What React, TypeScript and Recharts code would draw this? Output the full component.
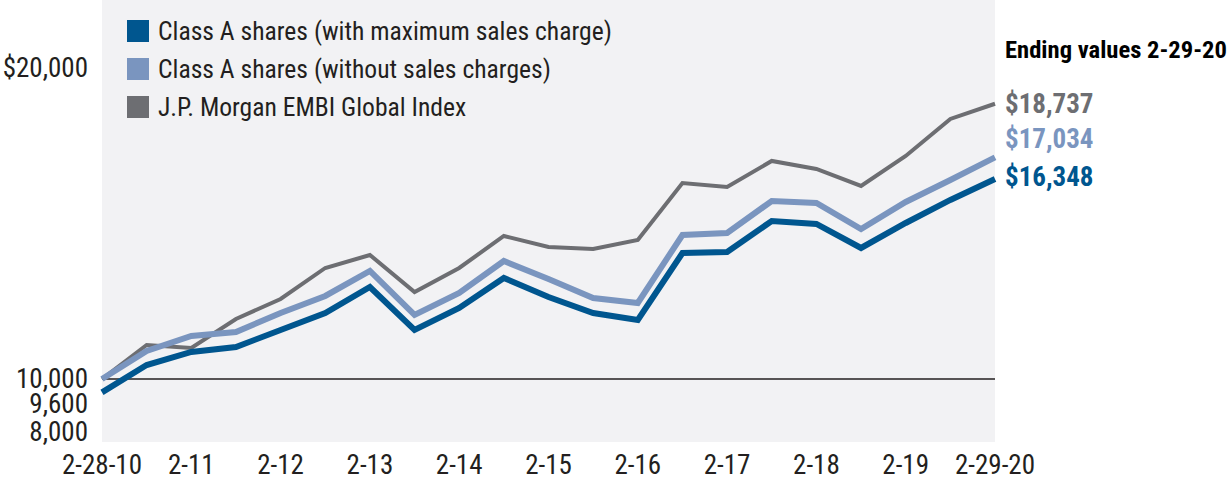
import React from 'react';
import {
  LineChart, Line, XAxis, YAxis, CartesianGrid, ReferenceLine, LabelList
} from 'recharts';

const dates = [
  '2-28-10', '8-10', '2-11', '8-11', '2-12', '8-12', '2-13', '8-13', '2-14', '8-14', '2-15',
  '8-15', '2-16', '8-16', '2-17', '8-17', '2-18', '8-18', '2-19', '8-19', '2-29-20'
];

const withMaxCharge = [
  9575, 10444, 10857, 11016, 11556, 12095, 12921, 11556, 12254, 13206, 12603,
  12095, 11873, 14000, 14032, 15016, 14921, 14159, 14952, 15683, 16348
];

const withoutCharge = [
  10000, 10889, 11365, 11492, 12095, 12635, 13429, 12032, 12730, 13746, 13175,
  12571, 12413, 14571, 14635, 15651, 15587, 14762, 15619, 16317, 17034
];

const embiIndex = [
  10000, 11079, 10984, 11905, 12540, 13524, 13937, 12762, 13524, 14540, 14190,
  14127, 14413, 16222, 16095, 16921, 16667, 16127, 17079, 18254, 18737
];

const xTicks = ['2-28-10', '2-11', '2-12', '2-13', '2-14', '2-15', '2-16', '2-17', '2-18', '2-19', '2-29-20'];
const yTicks = [8000, 9600, 10000, 20000];

const FONT = "'Liberation Sans Narrow', 'Roboto Condensed', 'DejaVu Sans Condensed', 'Open Sans', sans-serif";
const INK = '#231f20';

const series = [
  { key: 'maxCharge', name: 'Class A shares (with maximum sales charge)', color: '#00568f', width: 6, labelDy: -2 },
  { key: 'noCharge', name: 'Class A shares (without sales charges)', color: '#7a95bf', width: 6, labelDy: -18 },
  { key: 'embi', name: 'J.P. Morgan EMBI Global Index', color: '#6d6e72', width: 4, labelDy: 0 },
];

const data = dates.map((date, i) => ({
  date,
  maxCharge: withMaxCharge[i],
  noCharge: withoutCharge[i],
  embi: embiIndex[i],
}));

// the small labels near 10,000 are nudged apart like in the print version
const yNudge: Record<number, number> = { 20000: 4, 10000: 0, 9600: 12, 8000: -10 };

const YTick = (props: any) => {
  const { x, y, payload } = props;
  const label = payload.value === 20000 ? '$20,000' : payload.value.toLocaleString('en-US');
  return (
    <text x={x} y={y + (yNudge[payload.value] ?? 0)} textAnchor="end" dominantBaseline="central"
      fill={INK} fontSize={27} fontFamily={FONT}>
      {label}
    </text>
  );
};

const XTick = (props: any) => {
  const { x, y, payload } = props;
  return (
    <text x={x} y={y} textAnchor="middle" dominantBaseline="central" fill={INK} fontSize={27} fontFamily={FONT}>
      {payload.value}
    </text>
  );
};

const endLabel = (color: string, dy: number) => (props: any) => {
  const { x, y, index, value } = props;
  if (index !== dates.length - 1) return null;
  return (
    <text x={x + 10} y={y + dy} dominantBaseline="central" fill={color} fontSize={27}
      fontWeight="bold" fontFamily={FONT}>
      {'$' + Number(value).toLocaleString('en-US')}
    </text>
  );
};

const LegendBox = () => (
  <div style={{ position: 'absolute', left: 127, top: 12, fontFamily: FONT, fontSize: 25.6, color: INK }}>
    {series.map(s => (
      <div key={s.key} style={{ display: 'flex', alignItems: 'center', height: 38, whiteSpace: 'nowrap' }}>
        <span style={{ width: 22, height: 22, background: s.color, marginRight: 9, display: 'inline-block' }} />
        <span>{s.name}</span>
      </div>
    ))}
  </div>
);

export default function App() {
  return (
    <div style={{ position: 'absolute', left: 0, top: 0, width: 1230, height: 483, background: '#fff' }}>
      <LineChart width={1230} height={483} data={data} margin={{ top: 0, right: 235, left: 0, bottom: 0 }}>
        <CartesianGrid horizontal={false} vertical={false} fill="#f2f2f4" />
        <XAxis dataKey="date" ticks={xTicks} interval={0} height={41} axisLine={false} tickLine={false}
          tickSize={0} tickMargin={23} tick={<XTick />} />
        <YAxis type="number" domain={[8000, 22030]} ticks={yTicks} interval={0} width={102} axisLine={false}
          tickLine={false} tickSize={0} tickMargin={14} tick={<YTick />} />
        <ReferenceLine y={10000} stroke={INK} strokeWidth={1.5} />
        {[...series].reverse().map(s => (
          <Line key={s.key} type="linear" dataKey={s.key} name={s.name} stroke={s.color}
            strokeWidth={s.width} dot={false} isAnimationActive={false} strokeLinejoin="miter">
            <LabelList dataKey={s.key} content={endLabel(s.color, s.labelDy)} />
          </Line>
        ))}
      </LineChart>
      <LegendBox />
      <div style={{
        position: 'absolute', left: 1005, top: 35, fontFamily: FONT, fontSize: 24.6,
        fontWeight: 'bold', color: '#000', whiteSpace: 'nowrap'
      }}>
        Ending values 2-29-20
      </div>
    </div>
  );
}
